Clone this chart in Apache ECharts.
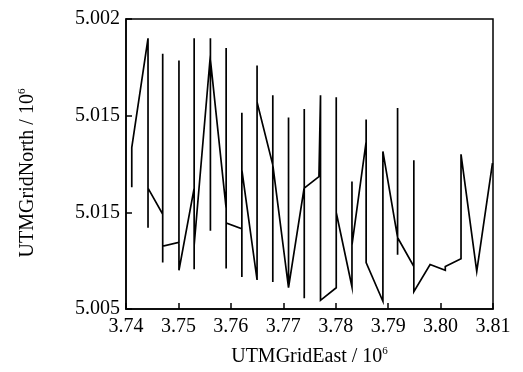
<!DOCTYPE html>
<html>
<head>
<meta charset="utf-8">
<script src="https://cdn.jsdelivr.net/npm/echarts@6/dist/echarts.min.js"></script>
<style>
  html, body { margin: 0; padding: 0; background: #fff; }
  #main { width: 523px; height: 372px; }
</style>
</head>
<body>
<div id="main"></div>
<script>
// track points, x in 10^6 m, y on the axis' own 0..3 scale
var trackX = [3.7411, 3.7411, 3.7411, 3.7442, 3.7442, 3.7442,
    3.7470, 3.7470, 3.7470, 3.7470, 3.7501, 3.7501, 3.7501,
    3.7530, 3.7530, 3.7530, 3.7530, 3.7561, 3.7561, 3.7561, 3.7561,
    3.7591, 3.7591, 3.7591, 3.7591, 3.7621, 3.7621, 3.7621, 3.7621,
    3.7650, 3.7650, 3.7650, 3.7680, 3.7680, 3.7680, 3.7680,
    3.7710, 3.7710, 3.7710, 3.7740, 3.7740, 3.7740, 3.7740,
    3.7768, 3.7771, 3.7771, 3.7801, 3.7801, 3.7801,
    3.7831, 3.7831, 3.7831, 3.7858, 3.7858, 3.7858, 3.7890, 3.7890,
    3.7918, 3.7918, 3.7918, 3.7918, 3.7949, 3.7949, 3.7949,
    3.7980, 3.8009, 3.8009, 3.8039, 3.8039, 3.8069, 3.8099];
var trackY = [1.49, 1.26, 1.67, 2.80, 0.84, 1.25,
    0.98, 2.64, 0.48, 0.65, 0.69, 2.57, 0.40,
    1.25, 2.80, 0.41, 0.66, 2.63, 2.80, 0.81, 2.58,
    1.04, 2.70, 0.42, 0.89, 0.83, 2.03, 0.33, 1.44,
    0.30, 2.52, 2.14, 1.49, 2.21, 0.28, 1.49,
    0.22, 1.98, 0.22, 1.26, 2.07, 0.11, 1.25,
    1.37, 2.21, 0.09, 0.22, 2.19, 1.00,
    0.23, 1.32, 0.66, 1.73, 1.96, 0.48, 0.08, 1.63,
    0.74, 2.08, 0.56, 0.74, 0.44, 1.54, 0.18,
    0.46, 0.40, 0.44, 0.52, 1.60, 0.39, 1.51];
// tick labels as printed, bottom to top
var yTickLabels = ['5.005', '5.015', '5.015', '5.002'];

var chart = echarts.init(document.getElementById('main'));
var font = 'Liberation Serif';

var pts = [];
for (var i = 0; i < trackX.length; i++) {
    pts.push([trackX[i], trackY[i]]);
}

var option = {
    backgroundColor: '#fff',
    animation: false,
    textStyle: { fontFamily: font },
    grid: {
        left: 126, right: 30, top: 19, bottom: 63,
        show: true, borderColor: '#000', borderWidth: 1.5
    },
    xAxis: {
        type: 'value',
        min: 3.74, max: 3.81, interval: 0.01,
        name: 'UTMGridEast / 10{sup|6}',
        nameLocation: 'middle',
        nameGap: 37,
        nameTextStyle: {
            fontFamily: font, fontSize: 20, color: '#000',
            rich: { sup: { fontFamily: font, fontSize: 11, color: '#000', padding: [0, 0, 10, 0] } }
        },
        axisLine: { lineStyle: { color: '#000', width: 1.5 } },
        axisTick: { inside: true, length: 6, lineStyle: { color: '#000', width: 1.5 } },
        axisLabel: {
            color: '#000', fontSize: 20, fontFamily: font, margin: 8,
            formatter: function (v) { return v.toFixed(2); }
        },
        splitLine: { show: false }
    },
    yAxis: {
        type: 'value',
        min: 0, max: 3, interval: 1,
        name: 'UTMGridNorth / 10{sup|6}',
        nameLocation: 'middle',
        nameRotate: 90,
        nameGap: 88,
        nameTextStyle: {
            fontFamily: font, fontSize: 20, color: '#000',
            padding: [0, 18, 0, 0],
            rich: { sup: { fontFamily: font, fontSize: 11, color: '#000', padding: [0, 0, 10, 0] } }
        },
        axisLine: { lineStyle: { color: '#000', width: 1.5 } },
        axisTick: { inside: true, length: 6, lineStyle: { color: '#000', width: 1.5 } },
        axisLabel: {
            color: '#000', fontSize: 20, fontFamily: font, margin: 6,
            formatter: function (v) { return yTickLabels[Math.round(v)]; }
        },
        splitLine: { show: false }
    },
    series: [{
        type: 'line',
        data: pts,
        showSymbol: false,
        lineStyle: { color: '#000', width: 1.7, join: 'miter' },
        itemStyle: { color: '#000' }
    }]
};
chart.setOption(option);
</script>
</body>
</html>
